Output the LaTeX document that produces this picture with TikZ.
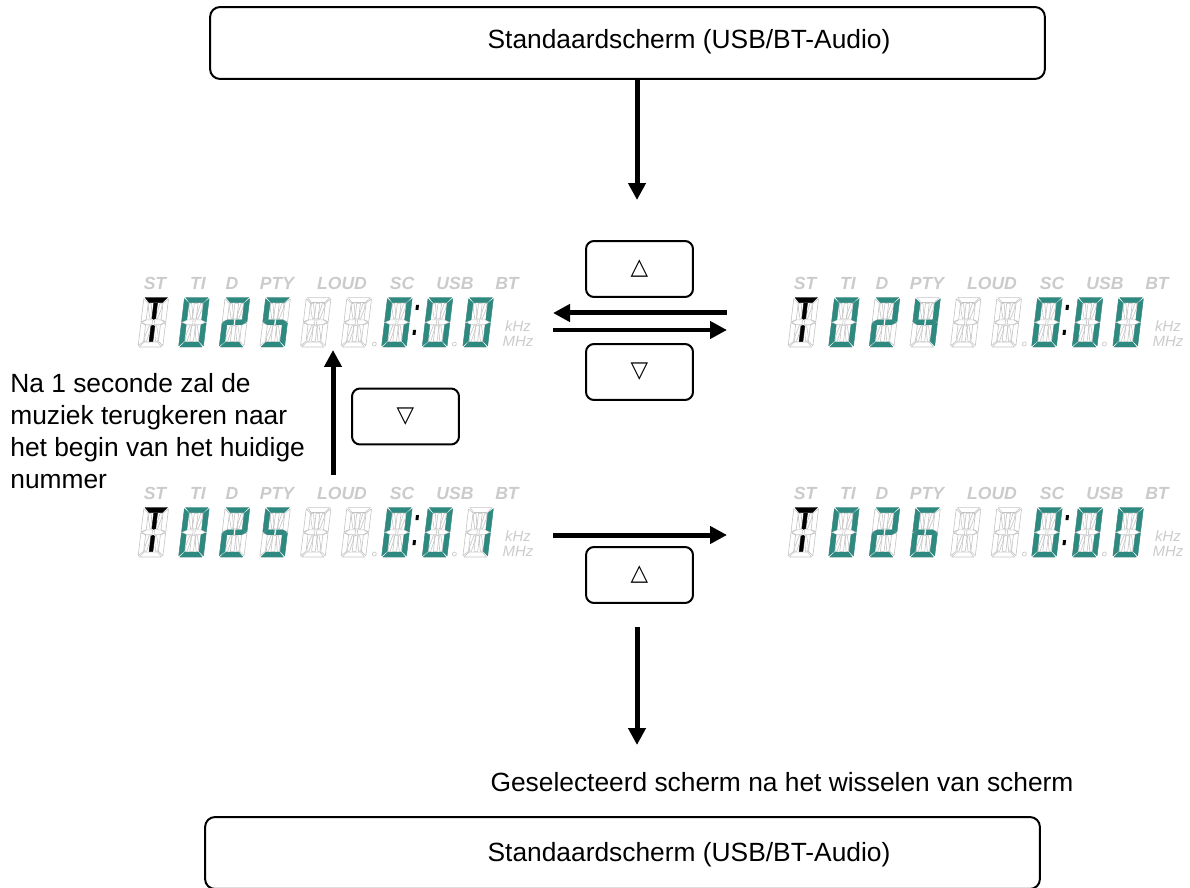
\documentclass[tikz,border=0pt]{standalone}
\usepackage{fontspec}
\setmainfont{Liberation Sans}
\newfontfamily\symfont{DejaVu Sans}
\usepackage{xcolor}
\definecolor{cLcd}{HTML}{2E8A80}
\definecolor{cSegOff}{HTML}{C4C4C4}
\definecolor{cLabelOff}{HTML}{CBCBCB}
\usepackage{tikz}
\usetikzlibrary{positioning,arrows.meta}
\tikzset{
  node-box/.style={draw=black,line width=0.04cm,rounded corners=0.2cm,
    minimum width=16.7cm,minimum height=1.44cm,inner sep=0pt},
  node-btn/.style={draw=black,line width=0.04cm,rounded corners=0.16cm,
    minimum width=2.14cm,minimum height=1.12cm,inner sep=0pt,
    font=\symfont\fontsize{13}{13}\selectfont},
  node-text/.style={font=\fontsize{15}{18.2}\selectfont,inner sep=0pt},
  arrow/.style={-{Triangle[length=0.34cm,width=0.34cm]},line width=0.1cm},
  seg-off/.style={draw=cSegOff,line width=0.35pt,line join=round},
  seg-on/.style={line width=0.2pt},
  lcd-label/.style={font=\fontsize{10}{10}\selectfont\bfseries\itshape,text=cLabelOff,inner sep=0pt},
  lcd-unit/.style={font=\fontsize{8.5}{8.5}\selectfont\itshape,text=cLabelOff,inner sep=0pt},
}
% 14 segments of one cell (24 x 48, slanted later)
\def\sega{(1.2,48)--(22.8,48)--(18.5,43.2)--(5.5,43.2)--cycle}
\def\segb{(24,46.8)--(19.2,42.5)--(19.2,26.5)--(24,24.5)--cycle}
\def\segc{(24,23.5)--(19.2,21.5)--(19.2,5.5)--(24,1.2)--cycle}
\def\segd{(1.2,0)--(22.8,0)--(18.5,4.8)--(5.5,4.8)--cycle}
\def\sege{(0,23.5)--(4.8,21.5)--(4.8,5.5)--(0,1.2)--cycle}
\def\segf{(0,46.8)--(4.8,42.5)--(4.8,26.5)--(0,24.5)--cycle}
\def\segg{(0.8,24)--(5,26.4)--(11,26.4)--(11,21.6)--(5,21.6)--cycle}
\def\segn{(23.2,24)--(19,26.4)--(13,26.4)--(13,21.6)--(19,21.6)--cycle}
\def\segi{(10.2,42.5)--(13.8,42.5)--(13.8,27.8)--(12,26.8)--(10.2,27.8)--cycle}
\def\segl{(10.2,20.2)--(12,21.2)--(13.8,20.2)--(13.8,5.5)--(10.2,5.5)--cycle}
\def\segh{(5.6,42.5)--(7.6,42.5)--(9.8,32)--(9.8,27.2)--(8.4,27.2)--(5.6,37.5)--cycle}
\def\segj{(18.4,42.5)--(16.4,42.5)--(14.2,32)--(14.2,27.2)--(15.6,27.2)--(18.4,37.5)--cycle}
\def\segk{(5.6,5.5)--(7.6,5.5)--(9.8,16)--(9.8,20.8)--(8.4,20.8)--(5.6,10.5)--cycle}
\def\segm{(18.4,5.5)--(16.4,5.5)--(14.2,16)--(14.2,20.8)--(15.6,20.8)--(18.4,10.5)--cycle}
\def\segnone{(0,0)}
% lit segments per character
\expandafter\def\csname lcdT\endcsname{a,i,l}
\expandafter\def\csname lcd0\endcsname{a,b,c,d,e,f}
\expandafter\def\csname lcd1\endcsname{b,c}
\expandafter\def\csname lcd2\endcsname{a,b,g,n,e,d}
\expandafter\def\csname lcd4\endcsname{f,b,g,n,c}
\expandafter\def\csname lcd5\endcsname{a,f,g,n,c,d}
\expandafter\def\csname lcd6\endcsname{a,f,g,n,e,c,d}
\expandafter\def\csname lcdx\endcsname{none}
% #1 name, #2/#3 bottom left of first cell, #4 char/colour list
\newcommand\lcdpanel[4]{%
  \foreach \lbl/\dx in {ST/17,TI/60,D/94,PTY/139,LOUD/204,SC/264,USB/317,BT/369}
    \node[lcd-label] (#1-\lbl) at ({#2+\dx},{#3+64}) {\lbl};
  \node[lcd-unit] (#1-khz) at ({#2+380},{#3+21}) {kHz};
  \node[lcd-unit] (#1-mhz) at ({#2+380},{#3+6}) {MHz};
  \foreach \c/\col [count=\k from 0] in {#4}{
    \begin{scope}[shift={({#2+\k*40.6},#3)},xslant=0.12,scale=1.03]
      \foreach \s in {a,b,c,d,e,f,g,h,i,j,k,l,m,n}{
        \expandafter\let\expandafter\segpath\csname seg\s\endcsname
        \draw[seg-off] \segpath;
      }
      \edef\litlist{\csname lcd\c\endcsname}
      \foreach \s in \litlist{
        \expandafter\let\expandafter\segpath\csname seg\s\endcsname
        \fill[seg-on,draw=\col,fill=\col] \segpath;
      }
    \end{scope}
  }
  \begin{scope}[shift={(#2,#3)},xslant=0.12]
    \fill (273,12) rectangle +(3,5);
    \fill (273,37) rectangle +(3,5);
    \draw[seg-off] (236,3) circle (2) (316,3) circle (2);
  \end{scope}
}

\begin{document}
\begin{tikzpicture}[x=0.02cm,y=0.02cm]
  \useasboundingbox (0,0) rectangle (1190,887);

  % standard screen
  \node[node-box] (top-screen) at (627.5,844) {};
  \node[node-text] (top-label) at (689,845) {Standaardscherm (USB/BT-Audio)};
  \coordinate (top-end) at (637,687);
  \draw[arrow] (top-screen.south -| top-end) -- (top-end);

  % upper row: previous / next track
  \node[node-btn] (btn-up1) at (639.5,618) {△};
  \coordinate (swap-r) at (727,574);
  \coordinate (swap-l) at (553,574);
  \draw[arrow] (swap-r) -- (swap-l);
  \coordinate (next-l) at (553,557);
  \coordinate (next-r) at (727,557);
  \draw[arrow] (next-l) -- (next-r);
  \node[node-btn] (btn-down1) at (639.5,515) {▽};

  \lcdpanel{p1}{138}{540}{T/black,0/cLcd,2/cLcd,5/cLcd,x/cLcd,x/cLcd,0/cLcd,0/cLcd,0/cLcd}
  \lcdpanel{p2}{788}{540}{T/black,0/cLcd,2/cLcd,4/cLcd,x/cLcd,x/cLcd,0/cLcd,0/cLcd,0/cLcd}

  % back to start of track
  \coordinate (back-lo) at (333,412);
  \coordinate (back-hi) at (333,537);
  \draw[arrow] (back-lo) -- (back-hi);
  \node[node-btn] (btn-down2) at (405.5,470.5) {▽};
  \node[node-text,align=left,anchor=north west] (note) at (10,514)
    {Na 1 seconde zal de\\muziek terugkeren naar\\het begin van het huidige\\nummer};

  % lower row
  \lcdpanel{p3}{138}{330}{T/black,0/cLcd,2/cLcd,5/cLcd,x/cLcd,x/cLcd,0/cLcd,0/cLcd,1/cLcd}
  \lcdpanel{p4}{788}{330}{T/black,0/cLcd,2/cLcd,6/cLcd,x/cLcd,x/cLcd,0/cLcd,0/cLcd,0/cLcd}
  \coordinate (skip-l) at (553,352);
  \coordinate (skip-r) at (727,352);
  \draw[arrow] (skip-l) -- (skip-r);
  \node[node-btn] (btn-up2) at (639.5,312) {△};

  % selected screen
  \coordinate (sel-top) at (637,260);
  \coordinate (sel-end) at (637,142);
  \draw[arrow] (sel-top) -- (sel-end);
  \node[node-text] (sel-label) at (782,105) {Geselecteerd scherm na het wisselen van scherm};
  \node[node-box] (bottom-screen) at (622.5,34) {};
  \node[node-text] (bottom-label) at (689,32) {Standaardscherm (USB/BT-Audio)};
\end{tikzpicture}
\end{document}
